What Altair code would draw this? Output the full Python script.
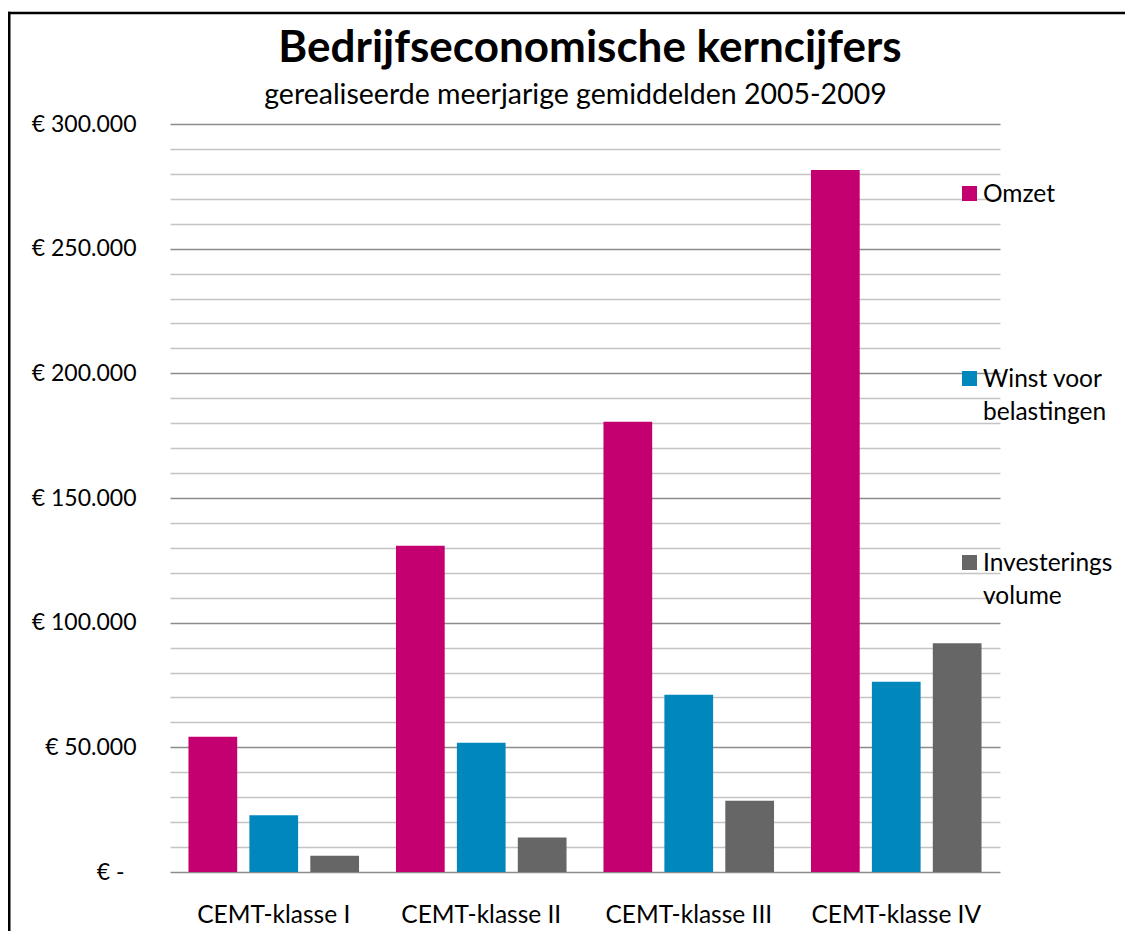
import altair as alt
import pandas as pd

categories = ["CEMT-klasse I", "CEMT-klasse II", "CEMT-klasse III", "CEMT-klasse IV"]
series = ["Omzet", "Winst voor belastingen", "Investerings volume"]
omzet = [54200, 130800, 180600, 281600]
winst = [22800, 51800, 71100, 76300]
investeringen = [6500, 13800, 28600, 91700]
colors = ["#C40071", "#0088BD", "#666666"]
legend_labels = [["Omzet"], ["Winst voor", "belastingen"], ["Investerings", "volume"]]
y_ticks = list(range(0, 300001, 10000))
title_text = "Bedrijfseconomische kerncijfers"
subtitle_text = "gerealiseerde meerjarige gemiddelden 2005-2009"

rows = []
for s, vals in zip(series, [omzet, winst, investeringen]):
    for c, v in zip(categories, vals):
        rows.append({"klasse": c, "reeks": s, "waarde": v})
df = pd.DataFrame(rows)

FONT = "Lato"
W, H = 830, 748

label_expr = (
    "datum.value === 0 ? '\u20ac -' : "
    "(datum.value % 50000 === 0 ? '\u20ac ' + replace(format(datum.value, ','), ',', '.') : '')"
)

bars = alt.Chart(df).mark_bar().encode(
    x=alt.X(
        "klasse:N",
        sort=categories,
        scale=alt.Scale(paddingInner=0.178, paddingOuter=0.089),
        axis=alt.Axis(
            title=None, domain=False, ticks=False, labelAngle=0, labelPadding=31,
            labelFont=FONT, labelFontSize=24.5, labelColor="black", grid=False,
        ),
    ),
    xOffset=alt.XOffset("reeks:N", sort=series, scale=alt.Scale(paddingInner=0.2, paddingOuter=0)),
    y=alt.Y(
        "waarde:Q",
        scale=alt.Scale(domain=[0, 300000], nice=False),
        axis=alt.Axis(
            title=None, values=y_ticks, labelExpr=label_expr, labelOverlap=False,
            domain=False, ticks=False, labelFont=FONT,
            labelPadding={"condition": {"test": "datum.value === 0", "value": 46}, "value": 34},
            labelFontSize=23, labelColor="black", grid=True, gridWidth=1.5,
            gridColor={"condition": {"test": "datum.value % 50000 === 0", "value": "#8c8c8c"},
                       "value": "#c4c4c4"},
        ),
    ),
    color=alt.Color("reeks:N", scale=alt.Scale(domain=series, range=colors), legend=None),
)

layers = [bars]
one = pd.DataFrame({"a": [0]})
legend_y = [69.5, 254.5, 438.5]
LFS = 24.5
for i, s in enumerate(series):
    layers.append(
        alt.Chart(one).mark_square(size=225, opacity=1, color=colors[i]).encode(
            x=alt.value(799.5), y=alt.value(legend_y[i])
        )
    )
    layers.append(
        alt.Chart(one).mark_text(
            align="left", baseline="top", font=FONT, fontSize=LFS, color="black", lineHeight=33
        ).encode(
            x=alt.value(813), y=alt.value(legend_y[i] - 0.43 * LFS), text=alt.value(legend_labels[i])
        )
    )

# chart title and subtitle
layers.append(
    alt.Chart(one).mark_text(
        align="center", baseline="alphabetic", font=FONT, fontSize=44, fontWeight="bold", color="black"
    ).encode(x=alt.value(420), y=alt.value(-62), text=alt.value(title_text))
)
layers.append(
    alt.Chart(one).mark_text(
        align="center", baseline="alphabetic", font=FONT, fontSize=28.5, color="black"
    ).encode(x=alt.value(405.5), y=alt.value(-20.5), text=alt.value(subtitle_text))
)

# outer frame: top and left edges (the rest lies outside the picture)
layers.append(
    alt.Chart(one).mark_rule(stroke="black", strokeWidth=2.5).encode(
        x=alt.value(-162), x2=alt.value(1000), y=alt.value(-111)
    )
)
layers.append(
    alt.Chart(one).mark_rule(stroke="black", strokeWidth=2.5).encode(
        x=alt.value(-160.75), y=alt.value(-112.25), y2=alt.value(900)
    )
)

chart = alt.layer(*layers).properties(
    width=W,
    height=H,
    autosize=alt.AutoSizeParams(type="none"),
    padding={"left": 162, "top": 116, "right": 125, "bottom": 59},
    background="white",
).configure_view(stroke=None)

chart.save("out.html", embed_options={"renderer": "svg", "actions": False})
